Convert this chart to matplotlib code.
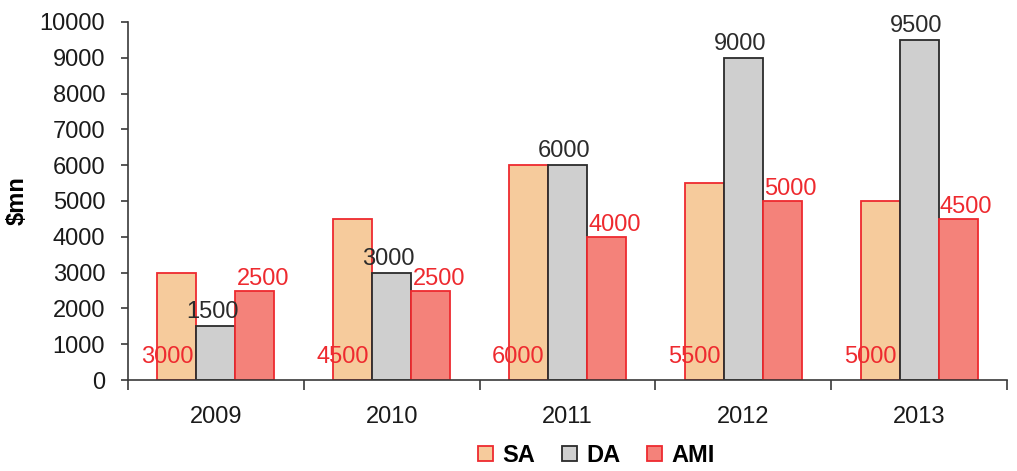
import matplotlib.pyplot as plt
import numpy as np
from matplotlib.patches import Patch

plt.rcParams['font.family'] = ['Liberation Sans', 'DejaVu Sans']

years = ['2009', '2010', '2011', '2012', '2013']
sa = [3000, 4500, 6000, 5500, 5000]
da = [1500, 3000, 6000, 9000, 9500]
ami = [2500, 2500, 4000, 5000, 4500]

red = '#ee2a2f'
dark = '#2b2b2b'
axis_col = '#3a3a3a'

fig = plt.figure(figsize=(10.17, 4.71), dpi=100)
ax = fig.add_axes([0.1259, 0.1932, 0.8643, 0.7601])

x = np.arange(len(years))
w = 0.222

ax.bar(x - w, sa, w, color='#f6cb9c', edgecolor=red, linewidth=1.3)
ax.bar(x, da, w, color='#cfcfcf', edgecolor=dark, linewidth=1.3)
ax.bar(x + w, ami, w, color='#f4827a', edgecolor=red, linewidth=1.3)

fs = 17
for i in range(len(years)):
    # SA value sits inside the bar near the base
    ax.annotate(str(sa[i]), (x[i] - w, 0), xytext=(-10, 17), textcoords='offset pixels',
                ha='center', va='baseline', color=red, fontsize=fs)
    ax.annotate(str(da[i]), (x[i], da[i]), xytext=(-3, 8), textcoords='offset pixels',
                ha='center', va='baseline', color=dark, fontsize=fs)
    ax.annotate(str(ami[i]), (x[i] + w, ami[i]), xytext=(8, 6), textcoords='offset pixels',
                ha='center', va='baseline', color=red, fontsize=fs)

ax.set_xlim(-0.5, len(years) - 0.5)
ax.set_ylim(0, 10000)
ax.set_yticks(np.arange(0, 10001, 1000))
ax.tick_params(axis='y', labelsize=fs, colors='#1a1a1a', direction='out', length=5,
               width=1.2, color=axis_col, pad=11.5)
ax.set_xticks(x)
ax.set_xticklabels(years)
ax.tick_params(axis='x', labelsize=fs, length=0, pad=19, colors='#1a1a1a')
ax.set_xticks(np.arange(-0.5, len(years), 1), minor=True)
ax.tick_params(axis='x', which='minor', length=7, width=1.2, color=axis_col, direction='out')

for s in ['top', 'right']:
    ax.spines[s].set_visible(False)
for s in ['left', 'bottom']:
    ax.spines[s].set_color(axis_col)
    ax.spines[s].set_linewidth(1.2)

ax.set_ylabel('$mn', fontsize=17, fontweight='bold')
ax.yaxis.set_label_coords(-0.113, 0.5)

handles = [Patch(facecolor='#f6cb9c', edgecolor=red, linewidth=1.3),
           Patch(facecolor='#cfcfcf', edgecolor=dark, linewidth=1.3),
           Patch(facecolor='#f4827a', edgecolor=red, linewidth=1.3)]
leg = fig.legend(handles, ['SA', 'DA', 'AMI'], loc='center left', bbox_to_anchor=(0.470, 0.033),
                 ncol=3, frameon=False, borderpad=0, borderaxespad=0,
                 handlelength=0.64, handleheight=0.64,
                 handletextpad=0.38, columnspacing=1.15, prop={'size': 17, 'weight': 'bold'})

fig.savefig('out.png', dpi=100)
